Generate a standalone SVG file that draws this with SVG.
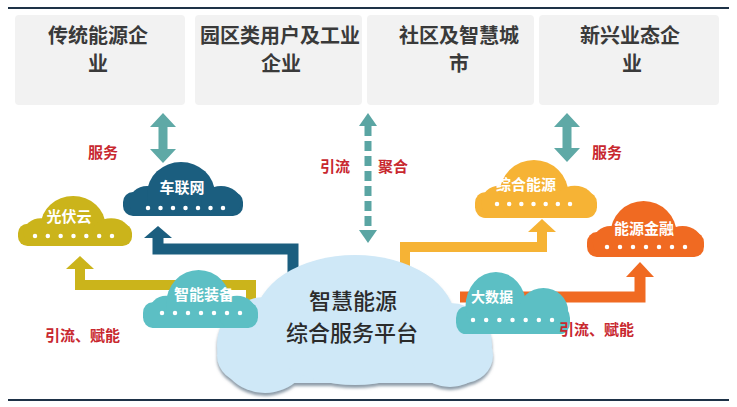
<svg xmlns="http://www.w3.org/2000/svg" xmlns:xlink="http://www.w3.org/1999/xlink" width="737" height="407" viewBox="0 0 737 407">
<style>
.box{fill:#f2f2f2}
.boxt{font-family:"Noto Sans CJK SC","Noto Sans",sans-serif;font-size:20px;font-weight:bold;fill:#3a3a3a;text-anchor:middle}
.ct{font-family:"Noto Sans CJK SC","Noto Sans",sans-serif;font-size:15px;font-weight:bold;fill:#ffffff;text-anchor:middle}
.lbl{font-family:"Noto Sans CJK SC","Noto Sans",sans-serif;font-size:15px;font-weight:bold;fill:#c8282f}
.main{font-family:"Noto Sans CJK SC","Noto Sans",sans-serif;font-size:22px;font-weight:500;fill:#2b2b2b;text-anchor:middle}
.dots{fill:none;stroke:#ffffff;stroke-width:4.5;stroke-linecap:round}
.rule{stroke:#1e3247;stroke-width:2}
.band{fill:none;stroke-linejoin:miter}
</style>
<defs>
<symbol id="cloud" viewBox="0 0 120 54" preserveAspectRatio="none">
<rect x="0" y="30" width="120" height="24" rx="10"/>
<ellipse cx="24" cy="40" rx="18" ry="16"/>
<ellipse cx="58" cy="32" rx="34" ry="32"/>
<ellipse cx="98" cy="40" rx="20" ry="16"/>
</symbol>
<symbol id="cloud2" viewBox="0 0 120 54" preserveAspectRatio="none">
<rect x="0" y="30" width="120" height="24" rx="10"/>
<ellipse cx="14" cy="42" rx="12" ry="12"/>
<ellipse cx="42" cy="30" rx="32" ry="30"/>
<ellipse cx="92" cy="34" rx="26" ry="20"/>
</symbol>
<filter id="sh" x="-10%" y="-10%" width="120%" height="130%">
<feDropShadow dx="0" dy="3" stdDeviation="1.5" flood-color="#6f8293" flood-opacity="0.8"/>
</filter>
</defs>
<rect width="737" height="407" fill="#ffffff"/>
<line class="rule" x1="8" y1="8" x2="729" y2="8"/>
<line class="rule" x1="8" y1="400" x2="729" y2="400"/>

<g id="box1"><rect class="box" x="15" y="15" width="170" height="90" rx="4"/><text class="boxt" x="98" y="43">传统能源企</text><text class="boxt" x="98" y="71">业</text></g>
<g id="box2"><rect class="box" x="195" y="15" width="167" height="90" rx="4"/><text class="boxt" x="280" y="43">园区类用户及工业</text><text class="boxt" x="281" y="71">企业</text></g>
<g id="box3"><rect class="box" x="367" y="15" width="167" height="90" rx="4"/><text class="boxt" x="459" y="43">社区及智慧城</text><text class="boxt" x="459" y="71">市</text></g>
<g id="box4"><rect class="box" x="539" y="15" width="180" height="90" rx="4"/><text class="boxt" x="630" y="43">新兴业态企</text><text class="boxt" x="632" y="71">业</text></g>

<g id="connectors">
<polygon fill="#5fa9a6" points="163,113 176,127 167.5,127 167.5,149 176,149 163,163 150,149 158.5,149 158.5,127 150,127"/>
<polygon fill="#5fa9a6" points="567,113 580,127 571.5,127 571.5,148 580,148 567,162 554,148 562.5,148 562.5,127 554,127"/>
<line x1="368" y1="126" x2="368" y2="230" stroke="#5aa5a3" stroke-width="7" stroke-dasharray="10 5"/>
<polygon fill="#5aa5a3" points="368,113 377,126 359,126"/>
<polygon fill="#5aa5a3" points="368,243 377,230 359,230"/>
<path class="band" d="M293 300 V249 H158 V236" stroke="#1b5e7f" stroke-width="11"/>
<polygon fill="#1b5e7f" points="158,226 172,238 144,238"/>
<path class="band" d="M405 290 V247 H542 V230" stroke="#f6b335" stroke-width="10"/>
<polygon fill="#f6b335" points="542,219 556,232 528,232"/>
<path class="band" d="M251 310 V285 H80 V267" stroke="#cbb41b" stroke-width="10"/>
<polygon fill="#cbb41b" points="80,256 94,269 66,269"/>
</g>

<g id="platform" filter="url(#sh)" fill="#cfe8f7">
<rect x="217" y="328" width="276" height="55" rx="30"/>
<circle cx="265" cy="345" r="48"/>
<ellipse cx="355" cy="320" rx="100" ry="65"/>
<circle cx="450" cy="345" r="42"/>
</g>
<g id="platform-text"><text class="main" x="353" y="309">智慧能源</text><text class="main" x="352" y="341">综合服务平台</text></g>

<g id="connectors2">
<path class="band" d="M460 297 H640 V276" stroke="#f06a22" stroke-width="11"/>
<polygon fill="#f06a22" points="640,262 654,277 626,277"/>
</g>

<g id="c-guangfu"><use xlink:href="#cloud" x="18" y="196" width="114" height="50" fill="#cbb41b"/><text class="ct" x="69" y="222">光伏云</text><line class="dots" x1="35" y1="236" x2="112.5" y2="236" stroke-dasharray="0 12.83"/></g>
<g id="c-chelian"><use xlink:href="#cloud" x="123" y="162" width="120" height="54" fill="#1b5e7f"/><text class="ct" x="182" y="193">车联网</text><line class="dots" x1="148" y1="208" x2="223.5" y2="208" stroke-dasharray="0 12.5"/></g>
<g id="c-zhineng"><use xlink:href="#cloud" x="143" y="270" width="115" height="58" fill="#5cbfc4"/><text class="ct" x="204" y="300">智能装备</text><line class="dots" x1="162" y1="313" x2="240.5" y2="313" stroke-dasharray="0 13"/></g>
<g id="c-zonghe"><use xlink:href="#cloud" x="475" y="160" width="122" height="58" fill="#f6b335"/><text class="ct" x="526" y="190">综合能源</text><line class="dots" x1="497" y1="204" x2="570.5" y2="204" stroke-dasharray="0 12.17"/></g>
<g id="c-jinrong"><use xlink:href="#cloud" x="587" y="201" width="117" height="56" fill="#f06a22"/><text class="ct" x="644" y="234">能源金融</text><line class="dots" x1="607" y1="247" x2="685.5" y2="247" stroke-dasharray="0 13"/></g>
<g id="c-dashuju"><use xlink:href="#cloud2" x="456" y="272" width="114" height="62" fill="#5cbfc4"/><text class="ct" x="492" y="302" style="font-size:14px">大数据</text><line class="dots" x1="473" y1="320" x2="552.5" y2="320" stroke-dasharray="0 13.17"/></g>

<g id="labels">
<text class="lbl" x="103" y="158" text-anchor="middle">服务</text>
<text class="lbl" x="335" y="172" text-anchor="middle">引流</text>
<text class="lbl" x="393" y="172" text-anchor="middle">聚合</text>
<text class="lbl" x="607" y="158" text-anchor="middle">服务</text>
<text class="lbl" x="45" y="341">引流、赋能</text>
<text class="lbl" x="559" y="335">引流、赋能</text>
</g>
</svg>
